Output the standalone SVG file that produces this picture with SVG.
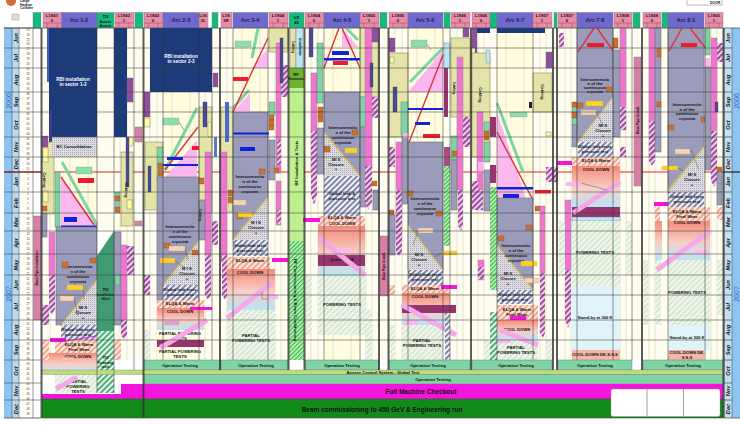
<svg xmlns="http://www.w3.org/2000/svg" width="740" height="425" viewBox="0 0 740 425">
<style>
text{font-family:"Liberation Sans",Arial,sans-serif;font-weight:bold;text-anchor:middle;fill:#111}
.t{font-size:4.2px}.h{font-size:5.5px;fill:#223}.s{font-size:3.4px}.w{fill:#fff;font-size:4.6px}.m{font-size:5.6px;font-style:italic;fill:#112}.wk{font-size:2.8px;fill:#444;font-weight:normal}
.y{font-size:7px;fill:#3a62c8;font-weight:normal}
.pk{fill:#e88ba8;stroke:#777;stroke-width:.4}.gn{fill:#16b97c;stroke:#777;stroke-width:.4}.ar{fill:#6f68d0;stroke:#777;stroke-width:.4}
.navy{fill:#1d3a7a}.kh{fill:#e4e3a8;stroke:#8a8a60;stroke-width:.6}.gr{fill:#9b9bbb;stroke:#666;stroke-width:.5}.pu{fill:#8f4f9c;stroke:#666;stroke-width:.3}.nv{fill:#4a4a9c;stroke:#333;stroke-width:.3}
.lg{fill:#7fd4a5;stroke:#666;stroke-width:.4}.pi{fill:#f075cf;stroke:#888;stroke-width:.4}.or{fill:#c9702c;stroke:#744;stroke-width:.3}.ye{fill:#fffca0;stroke:#666;stroke-width:.4}
.bl{fill:#1122dd}.re{fill:#ee1c2a}.pb{fill:#b9e5f4;stroke:#777;stroke-width:.4}.dm{fill:#96346e}.ro{fill:#d77fa5;stroke:#777;stroke-width:.4}.mg{fill:#f414dc}.tri{fill:#fbb8ee}
.note{fill:#ffd024;stroke:#aa8;stroke-width:.3}.bg{fill:#f6d3b4;stroke:#aa8;stroke-width:.3}.ngn{fill:#8fdcae;stroke:#6a8;stroke-width:.3}
.hp{fill:url(#hp)}.hs{fill:url(#hs)}.hg{fill:url(#hg)}.hd{fill:url(#hd)}.hG{fill:url(#hG)}.hl{fill:url(#hl)}.dt{fill:url(#dt)}.cd{fill:url(#cd)}
.rl{stroke:#e0303c;stroke-width:1.4;fill:none}.gl{stroke:#7fd4a5;stroke-width:3;fill:none}.pl{stroke:#f4a8e8;stroke-width:5;fill:none}.yl{stroke:#d9c04a;stroke-width:1.2;fill:none}.ld{stroke:#555;stroke-width:.5;fill:none}
</style>
<defs>
<pattern id="hp" width="4" height="4" patternUnits="userSpaceOnUse" patternTransform="rotate(45)"><rect width="4" height="4" fill="#f1e0f0"/><rect width="2.2" height="4" fill="#a24ba0"/></pattern>
<pattern id="hs" width="4" height="4" patternUnits="userSpaceOnUse" patternTransform="rotate(45)"><rect width="4" height="4" fill="#fde8dc"/><rect width="2" height="4" fill="#f2a590"/></pattern>
<pattern id="hg" width="4" height="4" patternUnits="userSpaceOnUse" patternTransform="rotate(45)"><rect width="4" height="4" fill="#f4f7e8"/><rect width="1.6" height="4" fill="#cfe5d4"/></pattern>
<pattern id="hd" width="4" height="4" patternUnits="userSpaceOnUse" patternTransform="rotate(45)"><rect width="4" height="4" fill="#f2f2f8"/><rect width="2" height="4" fill="#7f86ac"/></pattern>
<pattern id="hG" width="4" height="4" patternUnits="userSpaceOnUse" patternTransform="rotate(45)"><rect width="4" height="4" fill="#e9f6ec"/><rect width="2" height="4" fill="#4fb077"/></pattern>
<pattern id="hl" width="3" height="3" patternUnits="userSpaceOnUse" patternTransform="rotate(45)"><rect width="3" height="3" fill="#d8f8c8"/><rect width="1.5" height="3" fill="#35c04e"/></pattern>
<pattern id="dt" width="2" height="2" patternUnits="userSpaceOnUse"><rect width="2" height="2" fill="#dcdce2"/><rect width="1" height="1" fill="#aaaab4"/></pattern>
<linearGradient id="cd" x1="0" y1="0" x2="0" y2="1"><stop offset="0" stop-color="#f68a78"/><stop offset=".55" stop-color="#f8cfc8"/><stop offset="1" stop-color="#b9e5f4"/></linearGradient>
</defs>
<rect width="740" height="425" fill="#fff"/>

<g id="background">
<rect x="41" y="28" width="682" height="332" fill="#fffdf0"/>
<rect x="61" y="28" width="36" height="332" fill="#fffce0"/><rect x="163" y="28" width="36" height="332" fill="#fffce0"/><rect x="233" y="28" width="35" height="332" fill="#fffce0"/><rect x="324" y="28" width="36" height="332" fill="#fffce0"/><rect x="408" y="28" width="35" height="332" fill="#fffce0"/><rect x="497" y="28" width="36" height="332" fill="#fffce0"/>
<rect x="4" y="28" width="8" height="390" fill="#8ec4f0"/><rect x="12" y="28" width="7" height="390" fill="#b8daf2"/><rect x="19" y="28" width="14" height="390" fill="#fffdf5"/>
<rect x="724" y="28" width="8" height="390" fill="#c4dff2"/><rect x="732" y="28" width="8" height="390" fill="#8ec4f0"/>
<path d="M4 28H41M4 418H41" stroke="#444" stroke-width=".8"/>
<path d="M12 28V418M19 28V418M33 28V418M724 28V418M732 28V418" stroke="#555" stroke-width=".6" fill="none"/>
<path d="M50 28V360M70 28V360M88 28V360M172 28V360M190 28V360M242 28V360M260 28V360M333 28V360M351 28V360M417 28V360M435 28V360M506 28V360M524 28V360M586 28V360M604 28V360M677 28V360M695 28V360M120 28V360M127 28V360M150 28V360M157 28V360M205 28V360M227 28V360M275 28V360M281 28V360M311 28V360M318 28V360M366 28V360M372 28V360M395 28V360M402 28V360M457 28V360M463 28V360M478 28V360M484 28V360M540 28V360M546 28V360M565 28V360M571 28V360M620 28V360M626 28V360M649 28V360M655 28V360M711 28V360M717 28V360" stroke="#c9c9a8" stroke-width=".5" fill="none"/>
<path d="M4 172H723" stroke="#e8242c" stroke-width="1.2"/>
</g>

<g id="header">
<rect class="gn" x="33" y="12.5" width="8" height="15.5"/><rect class="pk" x="43" y="12.5" width="18.5" height="15.5"/><rect class="ar" x="61.5" y="12.5" width="35.5" height="15.5"/><rect class="gn" x="97" y="12.5" width="17" height="15.5"/><rect class="pk" x="115" y="12.5" width="19" height="15.5"/><rect class="gn" x="135" y="12.5" width="8" height="15.5"/><rect class="pk" x="144" y="12.5" width="19" height="15.5"/><rect class="ar" x="163" y="12.5" width="36" height="15.5"/><rect class="pk" x="199" y="12.5" width="9" height="15.5"/><rect class="gn" x="212" y="12.5" width="6" height="15.5"/><rect class="pk" x="221" y="12.5" width="11" height="15.5"/><rect class="ar" x="233" y="12.5" width="35" height="15.5"/><rect class="pk" x="269" y="12.5" width="19" height="15.5"/><rect class="gn" x="289" y="12.5" width="15" height="15.5"/><rect class="pk" x="305" y="12.5" width="19" height="15.5"/><rect class="ar" x="324" y="12.5" width="36" height="15.5"/><rect class="pk" x="360" y="12.5" width="19" height="15.5"/><rect class="gn" x="380" y="12.5" width="7" height="15.5"/><rect class="pk" x="389" y="12.5" width="19" height="15.5"/><rect class="ar" x="408" y="12.5" width="35" height="15.5"/><rect class="gn" x="444" y="12.5" width="6" height="15.5"/><rect class="pk" x="451" y="12.5" width="19" height="15.5"/><rect class="pk" x="472" y="12.5" width="18" height="15.5"/><rect class="gn" x="490" y="12.5" width="7" height="15.5"/><rect class="ar" x="497" y="12.5" width="36" height="15.5"/><rect class="pk" x="533" y="12.5" width="19" height="15.5"/><rect class="gn" x="554" y="12.5" width="3" height="15.5"/><rect class="pk" x="558" y="12.5" width="19" height="15.5"/><rect class="ar" x="577" y="12.5" width="36" height="15.5"/><rect class="pk" x="614" y="12.5" width="18" height="15.5"/><rect class="gn" x="633" y="12.5" width="7" height="15.5"/><rect class="pk" x="643" y="12.5" width="18" height="15.5"/><rect class="gn" x="662" y="12.5" width="6" height="15.5"/><rect class="ar" x="668" y="12.5" width="36" height="15.5"/><rect class="pk" x="705" y="12.5" width="18" height="15.5"/>
<path d="M43 23H61.500M47 23V28M57 23V28M115 23H134M119 23V28M129 23V28M144 23H163M148 23V28M158 23V28M269 23H288M273 23V28M283 23V28M305 23H324M309 23V28M319 23V28M360 23H379M364 23V28M374 23V28M389 23H408M393 23V28M403 23V28M451 23H470M455 23V28M465 23V28M472 23H490M476 23V28M486 23V28M533 23H552M537 23V28M547 23V28M558 23H577M562 23V28M572 23V28M614 23H632M618 23V28M628 23V28M643 23H661M647 23V28M657 23V28M705 23H723M709 23V28M719 23V28" stroke="#844" stroke-width=".4" fill="none"/>
<text class="h" x="79" y="21.5">Arc 1-2</text><text class="h" x="181" y="21.5">Arc 2-3</text><text class="h" x="250" y="21.5">Arc 3-4</text><text class="h" x="342" y="21.5">Arc 4-5</text><text class="h" x="425" y="21.5">Arc 5-6</text><text class="h" x="515" y="21.5">Arc 6-7</text><text class="h" x="595" y="21.5">Arc 7-8</text><text class="h" x="686" y="21.5">Arc 8-1</text>
<text class="t" x="105.5" y="18">TI2</text><text class="s" x="105.5" y="23">Access</text><text class="s" x="105.5" y="26.5">Access</text><text class="t" x="296.5" y="19">UX</text><text class="t" x="296.5" y="24">45</text>
<text class="t" x="52" y="17">L1S01</text><text class="t" x="52" y="22">0</text><text class="t" x="124" y="17">L1S02</text><text class="t" x="124" y="22">1</text><text class="t" x="153" y="17">L1S02</text><text class="t" x="153" y="22">0</text><text class="t" x="203" y="17">L1S</text><text class="t" x="203" y="22">3L</text><text class="t" x="226" y="17">L1S</text><text class="t" x="226" y="22">3R</text><text class="t" x="278" y="17">L1S04</text><text class="t" x="278" y="22">1</text><text class="t" x="314" y="17">L1S04</text><text class="t" x="314" y="22">0</text><text class="t" x="369" y="17">L1S05</text><text class="t" x="369" y="22">1</text><text class="t" x="398" y="17">L1S05</text><text class="t" x="398" y="22">0</text><text class="t" x="460" y="17">L1S06</text><text class="t" x="460" y="22">1</text><text class="t" x="481" y="17">L1S06</text><text class="t" x="481" y="22">0</text><text class="t" x="542" y="17">L1S07</text><text class="t" x="542" y="22">1</text><text class="t" x="567" y="17">L1S07</text><text class="t" x="567" y="22">0</text><text class="t" x="623" y="17">L1S08</text><text class="t" x="623" y="22">1</text><text class="t" x="652" y="17">L1S08</text><text class="t" x="652" y="22">0</text><text class="t" x="714" y="17">L1S01</text><text class="t" x="714" y="22">1</text>
</g>

<g id="sector12">
<rect class="navy" x="49" y="28" width="48" height="109"/><rect class="navy" x="114" y="28" width="13" height="109"/><rect x="47" y="28" width="2" height="54" fill="#3c62c8"/><rect x="49" y="110" width="3" height="52" fill="#3c3c8c"/>
<text class="w" x="73" y="81">RBI installation</text><text class="w" x="73" y="86">in sector 1-2</text>
<rect class="kh" x="42" y="142" width="12" height="72"/><rect class="pu" x="42" y="136" width="6" height="11"/><rect class="ye" x="43" y="148" width="5" height="14"/><rect class="ye" x="43" y="191" width="5" height="11"/><rect class="or" x="42" y="206" width="5" height="5"/><rect class="gr" x="42" y="213" width="5" height="24"/>
<rect class="dt" x="52" y="137" width="45" height="20"/><text class="t" x="74" y="148">BC Consolidation</text>
<rect class="lg" x="55" y="172" width="5" height="55"/><rect class="pi" x="49" y="232" width="6" height="44"/><path class="hp" d="M49 275h6v34l-3 6-3-6z"/><rect class="hp" x="42" y="305" width="7" height="20"/>
<polygon class="tri" points="61,178 61,226 97,226"/>
<path class="gl" d="M62 162L97 225"/><path class="rl" d="M61 177L94 225"/><rect class="bl" x="64" y="217" width="13" height="5"/><rect class="bl" x="61" y="225.5" width="36" height="2"/>
<rect class="ngn" x="76" y="167" width="16" height="7"/><rect class="re" x="78" y="178" width="16" height="5"/>
<rect class="gr" x="56" y="227" width="41" height="98"/><polygon class="dt" points="97,280 97,325 61,325"/><path class="yl" d="M97 280L61 325"/>
<text class="t" x="78" y="268">Interconnectio</text><text class="t" x="78" y="273">n of the</text><text class="t" x="78" y="278">continuous</text><text class="t" x="78" y="283">cryostat</text>
<rect class="or" x="62" y="262" width="6" height="6"/><rect class="or" x="90" y="258" width="6" height="5"/><rect class="note" x="67" y="285" width="16" height="5"/><rect class="bg" x="60" y="296" width="14" height="5"/><path class="ld" d="M83 290L84 300M74 298L78 316"/>
<text class="t" x="83" y="309">MI S</text><text class="t" x="83" y="314">Closure</text><text class="t" x="83" y="319">+</text>
<rect class="hd" x="61" y="325" width="36" height="15"/><text class="t" x="78" y="331">Global leak tests</text><text class="t" x="78" y="336">pressure test</text>
<rect class="hs" x="55" y="340" width="42" height="13"/><text class="t" x="79" y="346">ELQA &amp; Warm</text><text class="t" x="79" y="351">Final Meas</text>
<rect class="cd" x="42" y="353" width="55" height="20"/><text class="t" x="78" y="358">COOL DOWN</text><rect class="hs" x="42" y="340" width="7" height="20"/><rect class="hs" x="114" y="340" width="7" height="20"/>
<rect class="hg" x="55" y="373" width="42" height="20"/><text class="t" x="78" y="383">PARTIAL</text><text class="t" x="78" y="388">POWERING</text><text class="t" x="78" y="393">TESTS</text>
<path class="pl" d="M56 389L77 377"/><rect class="mg" x="50" y="338" width="16" height="4"/><path d="M60 342L96 336" stroke="#e91ed0" stroke-width="1"/><rect class="bg" x="62" y="357" width="12" height="3" opacity=".6"/>
</g>

<g id="ti2">
<polygon fill="#fff" points="97,256 114,231 97,231"/><polygon fill="#3f9b70" points="97,256 114,231 114,256"/><rect x="97" y="256" width="17" height="75" fill="#3f9b70"/><rect class="hG" x="97" y="331" width="17" height="62"/>
<text class="t" x="105.500" y="291">TI2</text><text class="s" x="105.500" y="296">Installation</text><text class="s" x="105.500" y="300">effort</text><text class="t" x="105.500" y="359">TI2</text><text class="s" x="105.500" y="364">Powering</text><text class="s" x="105.500" y="368">tests</text>
</g>

<g id="point2">
<rect class="lg" x="115" y="192" width="5" height="21"/><rect class="or" x="115" y="196" width="5" height="5"/><rect class="or" x="115" y="207" width="5" height="5"/><rect class="gr" x="114" y="232" width="7" height="93"/><rect class="lg" x="115" y="275" width="5" height="10"/>
<rect class="pi" x="121" y="245" width="6" height="76"/><path class="hp" d="M121 320h6v15l-3 5-3-5z"/><rect class="hp" x="127" y="246" width="7" height="29"/>
<rect class="kh" x="121" y="152" width="12" height="74"/><rect class="nv" x="126" y="137" width="3" height="50"/><rect class="pu" x="127" y="78" width="6" height="24"/><rect class="ye" x="129" y="137" width="4" height="9"/><rect class="ye" x="127" y="200" width="5" height="9"/>
<rect class="ro" x="135" y="127" width="7" height="15"/><rect class="ro" x="135" y="221" width="7" height="5"/><rect class="ro" x="33.500" y="216" width="7.500" height="104"/>
<text class="s" transform="rotate(-90 37 268)" x="37" y="269">Base Pipe Installation</text><text class="t" transform="rotate(90 126 190)" x="126" y="191">Cabling</text><text class="t" transform="rotate(90 44 180)" x="44" y="181">Cabling</text>
</g>

<g id="sector23">
<rect class="navy" x="150" y="28" width="62" height="64"/><text class="w" x="181" y="58">RBI installation</text><text class="w" x="181" y="63">in sector 2-3</text>
<rect class="pu" x="144" y="92" width="6" height="25"/><rect class="ye" x="144" y="118" width="6" height="9"/><rect class="kh" x="145" y="142" width="18" height="68"/><rect class="nv" x="148" y="166" width="3" height="26"/><rect class="lg" x="157" y="147" width="6" height="33"/><rect class="or" x="158" y="163" width="5" height="6"/><rect class="or" x="158" y="170" width="5" height="6"/>
<rect class="ngn" x="163" y="118" width="16" height="7"/><path class="ld" d="M179 122L184 130"/>
<polygon class="tri" points="197,140 197,180 163,180"/><path class="gl" d="M197 108L165 170"/><path class="rl" d="M198 127L165 170"/>
<rect class="bl" x="167" y="157" width="16" height="3"/><rect class="bl" x="163" y="164" width="35" height="2"/><rect class="re" x="192" y="146" width="16" height="4"/>
<rect class="gr" x="157" y="177" width="42" height="123"/><polygon class="dt" points="198,242 198,285 163,285"/><path class="yl" d="M198 242L163 285"/>
<text class="t" x="180" y="228">Interconnectio</text><text class="t" x="180" y="233">n of the</text><text class="t" x="180" y="238">continuous</text><text class="t" x="180" y="243">cryostat</text>
<rect class="or" x="164" y="243" width="6" height="5"/><rect class="or" x="192" y="250" width="6" height="5"/><rect class="bg" x="169" y="246" width="16" height="5"/><rect class="note" x="160" y="258" width="15" height="5"/><path class="ld" d="M185 249L188 260M175 261L185 268"/>
<text class="t" x="187" y="270">M I S</text><text class="t" x="187" y="275">Closure</text><text class="t" x="187" y="280">+</text>
<rect class="hd" x="163" y="285" width="35" height="15"/><text class="t" x="180" y="291">Global leak tests</text><text class="t" x="180" y="296">pressure test</text>
<rect class="hs" x="157" y="300" width="47" height="8"/><text class="t" x="180" y="305">ELQA &amp; Warm</text><rect class="cd" x="157" y="308" width="47" height="22"/><text class="t" x="180" y="313">COOL DOWN</text>
<rect fill="#fffce0" x="157" y="330" width="40" height="10"/><text class="t" x="180" y="335">PARTIAL POWERING</text><text class="t" x="180" y="339.500">TESTS</text>
<rect class="dm" x="157" y="340" width="47" height="7"/><rect fill="#fffce0" x="157" y="347" width="40" height="13"/><text class="t" x="180" y="353">PARTIAL POWERING</text><text class="t" x="180" y="358">TESTS</text>
<rect class="hg" x="144" y="330" width="6" height="30"/><rect class="hp" x="144" y="275" width="6" height="20"/><rect class="mg" x="190" y="307" width="22" height="3"/><rect class="pi" x="165" y="321" width="14" height="4" opacity=".6"/><path class="pl" d="M160 348L207 320"/>
<rect class="kh" x="199" y="107" width="13" height="105"/><rect class="nv" x="203" y="102" width="4" height="25" fill="#4a6ad0"/><rect class="or" x="199" y="178" width="5" height="6"/><rect class="ye" x="208" y="122" width="3" height="15"/><rect class="pi" x="205" y="152" width="6" height="103"/><path class="hp" d="M205 255h6v40l-3 5-3-5z"/><rect fill="#5a7ac8" x="214" y="137" width="3" height="20"/><rect class="pu" x="213" y="73" width="5" height="14"/><rect class="hp" x="212" y="221" width="6" height="24"/>
<rect class="gr" x="199" y="200" width="6" height="40"/><text class="s" transform="rotate(90 200 215)" x="200" y="216">Cabling</text>
</g>

<g id="sector34">
<rect class="kh" x="221" y="107" width="12" height="105"/><rect x="225" y="102" width="4" height="40" fill="#4a6ad0"/><rect class="pi" x="221" y="152" width="6" height="110"/><path class="hp" d="M222 255h5v40l-2 5-3-5z"/><rect class="or" x="228" y="190" width="5" height="6"/><rect class="or" x="228" y="197" width="5" height="6"/>
<rect class="gr" x="233" y="112" width="35" height="128"/><polygon class="tri" points="252,68 268,48 268,68"/><polygon class="tri" points="233,112 250,93 250,112"/><path class="gl" d="M233 108L249 90"/><path class="gl" d="M258 28L252 58"/><path class="rl" d="M233 112L268 38"/><polygon class="dt" points="268,197 268,240 233,240"/><path class="yl" d="M268 197L233 240"/>
<rect class="bl" x="233" y="132.500" width="36" height="2"/><rect class="bl" x="240" y="147" width="15" height="4"/><rect class="re" x="233" y="77" width="15" height="4"/><rect class="ngn" x="235" y="41" width="16" height="6"/><rect class="or" x="259" y="169" width="6" height="5"/>
<text class="t" x="250" y="178">Interconnectio</text><text class="t" x="250" y="183">n of the</text><text class="t" x="250" y="188">continuous</text><text class="t" x="250" y="193">cryostat</text>
<rect class="or" x="237" y="214" width="6" height="5" opacity=".9"/><rect class="note" x="238" y="212" width="14" height="5"/><rect class="bg" x="233" y="200" width="13" height="5"/><text class="t" x="256" y="224">M I S</text><text class="t" x="256" y="229">Closure</text><text class="t" x="256" y="234">+</text>
<rect class="hd" x="233" y="240" width="35" height="16"/><text class="t" x="250" y="247">Global leak tests</text><text class="t" x="250" y="252">pressure test</text>
<rect class="hs" x="227" y="257" width="43" height="12"/><text class="t" x="250" y="262">ELQA &amp; Warm</text><rect class="cd" x="227" y="269" width="48" height="41"/><text class="t" x="250" y="274">COOL DOWN</text><rect class="hg" x="227" y="310" width="48" height="50"/><text class="t" x="251" y="337">PARTIAL</text><text class="t" x="251" y="342">POWERING TESTS</text>
<path class="pl" d="M227 318L272 283"/><rect class="mg" x="272" y="258" width="16" height="4"/><rect class="tri" x="266" y="295" width="12" height="4"/><path class="ld" d="M262 292V299H268"/>
<rect class="kh" x="269" y="28" width="19" height="24"/><rect class="lg" x="269" y="102" width="6" height="13"/><rect class="or" x="269" y="115" width="5" height="5"/><rect class="or" x="269" y="120" width="5" height="5"/><rect class="or" x="269" y="125" width="5" height="5"/>
<rect class="pi" x="276" y="43" width="5" height="130"/><rect class="hp" x="277" y="140" width="4" height="25"/><rect class="pi" x="276" y="181" width="5" height="44"/><path class="hp" d="M277 210h4v12l-2 3-2-3z"/><rect class="hp" x="281" y="65" width="7" height="32"/><rect class="nv" x="280" y="38" width="3" height="45"/><rect class="gr" x="269" y="140" width="6" height="40"/><rect class="or" x="274" y="168" width="5" height="5"/>
</g>

<g id="ux45">
<rect class="kh" x="290" y="28" width="6" height="40"/><rect class="pb" x="296" y="28" width="7" height="40"/><rect fill="#6db32d" x="289" y="68" width="15" height="20"/><rect fill="#bff08f" x="289" y="88" width="15" height="153"/><rect class="hl" x="289" y="241" width="15" height="119"/>
<text class="t" fill="#fff" x="296" y="76">RF</text><text class="s" x="296" y="80">Electronic</text><text class="t" transform="rotate(-90 296 163)" x="296" y="164.500">RF Installation &amp; Tests</text><text class="t" transform="rotate(90 295 300)" x="295" y="301.500">RF Commissioning &amp; Beam Conditioning</text>
<text class="s" transform="rotate(90 293 47)" x="293" y="48">Cabling</text><text class="s" transform="rotate(90 300 47)" x="300" y="48">Installation</text>
</g>

<g id="sector45">
<rect class="nv" x="309" y="28" width="4" height="29"/><rect class="pi" x="311" y="73" width="6" height="100"/><path class="hp" d="M311 131h6v64l-3 10-3-10z"/><rect class="lg" x="317" y="43" width="6" height="60"/><rect class="or" x="318" y="107" width="5" height="5"/><rect class="or" x="318" y="112" width="5" height="5"/><rect class="or" x="318" y="117" width="5" height="5"/><rect class="gr" x="317" y="128" width="7" height="46"/>
<polygon class="tri" points="342,28 342,47 358,47"/><path class="gl" d="M346 28L358 40" stroke-width="2"/><path class="rl" d="M324 68L339 28M342 28L361 70"/><rect class="bl" x="324" y="58" width="36" height="2.500"/><rect class="bl" x="332" y="51" width="17" height="4"/><rect class="re" x="333" y="61" width="15" height="4"/>
<rect class="gr" x="324" y="92" width="36" height="84"/><polygon class="dt" points="324,132 324,176 360,176"/><path class="yl" d="M324 132L360 176"/>
<text class="t" x="343" y="129">Interconnectio</text><text class="t" x="343" y="134">n of the</text><text class="t" x="343" y="139">continuous</text><text class="t" x="343" y="144">cryostat</text>
<rect class="or" x="352" y="130" width="6" height="5"/><rect class="or" x="324" y="146" width="6" height="6"/><rect class="note" x="345" y="148" width="12" height="5"/><text class="t" x="336" y="161">MI S</text><text class="t" x="336" y="165.500">Closure</text><text class="t" x="336" y="170">+</text><rect class="bg" x="342" y="181" width="13" height="4"/>
<rect class="hd" x="324" y="176" width="36" height="40"/><text class="t" x="342" y="195">Global leak &amp;</text><text class="t" x="342" y="200">pressure test</text>
<rect class="hs" x="318" y="216" width="47" height="10"/><text class="t" x="342" y="219">ELQA &amp; Warm</text><text class="t" x="342" y="225">COOL DOWN</text><rect class="cd" x="318" y="226" width="47" height="50"/><rect class="dm" x="318" y="255" width="47" height="11"/><text class="s" x="342" y="261" fill="#400">Quench/ELQA</text>
<rect class="hg" x="318" y="276" width="48" height="59"/><text class="t" x="342" y="306">POWERING TESTS</text><path class="pl" d="M319 238L365 275"/><rect class="mg" x="303" y="218" width="17" height="4"/><rect class="hg" x="306" y="275" width="6" height="60"/><rect class="tri" x="337" y="248" width="13" height="4"/>
<rect class="kh" x="360" y="28" width="18" height="69"/><rect class="lg" x="360" y="97" width="6" height="30"/><rect class="gr" x="360" y="127" width="6" height="80"/><rect class="pi" x="365" y="28" width="7" height="140"/><path class="hp" d="M365 166h7v36l-4 8-3-8z"/><rect class="nv" x="370" y="63" width="3" height="24"/><rect class="hp" x="372" y="97" width="6" height="21"/><rect class="pu" x="372" y="28" width="6" height="14"/><rect class="or" x="372" y="181" width="5" height="5"/><rect class="gr" x="373" y="190" width="5" height="20"/>
<rect class="ro" x="380" y="236" width="8" height="60"/><text class="s" transform="rotate(-90 384 266)" x="384" y="267">Base Pipe Install.</text><rect class="hg" x="366" y="310" width="6" height="50"/>
</g>

<g id="sector56">
<rect class="pu" x="389" y="38" width="6" height="14"/><rect class="kh" x="389" y="53" width="19" height="84"/><rect class="ye" x="390" y="57" width="4" height="6"/><rect class="nv" x="393" y="87" width="4" height="25"/><rect class="lg" x="401" y="102" width="7" height="33"/><rect class="pi" x="396" y="142" width="6" height="100"/><path class="hp" d="M396 190h6v62l-3 5-3-5z"/><rect class="hp" x="389" y="147" width="6" height="20"/><rect class="or" x="389" y="210" width="5" height="5"/><rect class="gr" x="389" y="215" width="6" height="40"/><rect class="hs" x="389" y="285" width="6" height="10"/><rect class="gr" x="402" y="136" width="6" height="68"/>
<rect class="ngn" x="411" y="40" width="16" height="7"/><path class="ld" d="M427 44L431 50"/><polygon class="tri" points="443,50 443,92 408,92"/><path class="gl" d="M410 82L443 48"/><path class="rl" d="M443 55L408 145"/><rect class="bl" x="408" y="108" width="35" height="2"/><rect class="bl" x="415" y="122" width="15" height="3"/><rect class="re" x="423" y="134" width="17" height="4"/><rect class="tri" x="403" y="133" width="5" height="5"/>
<rect class="gr" x="408" y="142" width="35" height="128"/><polygon class="dt" points="408,225 408,270 443,270"/><path class="yl" d="M408 225L443 270"/>
<text class="t" x="425" y="200">Interconnectio</text><text class="t" x="425" y="205">n of the</text><text class="t" x="425" y="210">continuous</text><text class="t" x="425" y="215">cryostat</text>
<rect class="or" x="407" y="191" width="6" height="5"/><rect class="or" x="436" y="211" width="6" height="5"/><rect class="bg" x="418" y="228" width="15" height="5"/><rect class="note" x="442" y="251" width="15" height="4"/><path class="ld" d="M418 231L413 245M442 253L434 257"/>
<text class="t" x="419" y="256">MI S</text><text class="t" x="419" y="261">Closure</text><text class="t" x="419" y="266">+</text>
<rect class="hd" x="408" y="270" width="35" height="15"/><text class="t" x="425" y="276">Global leak tests</text><text class="t" x="425" y="281">pressure test</text><rect class="hs" x="402" y="285" width="48" height="8"/><text class="t" x="425" y="290">ELQA &amp; Warm</text><rect class="cd" x="402" y="293" width="48" height="32"/><text class="t" x="425" y="298">COOL DOWN</text><rect class="dm" x="402" y="305" width="54" height="8"/><rect class="hg" x="402" y="325" width="41" height="35"/><text class="t" x="422" y="342">PARTIAL</text><text class="t" x="422" y="347">POWERING TESTS</text><path class="pl" d="M402 305L456 335"/><rect class="mg" x="441" y="285" width="16" height="4"/><rect class="tri" x="404" y="320" width="14" height="5"/><rect class="hg" x="389" y="325" width="6" height="35"/>
<rect class="pb" x="444" y="43" width="6" height="25"/><rect fill="#96346e" x="444" y="68" width="4" height="49"/><rect fill="#a84f80" x="444" y="147" width="6" height="19"/><rect class="hl" x="444" y="166" width="6" height="80"/><rect class="hd" x="445" y="313" width="5" height="47"/>
</g>

<g id="point6">
<rect class="kh" x="451" y="38" width="19" height="79"/><rect class="pi" x="457" y="57" width="6" height="133"/><path class="hp" d="M458 190h5v36l-2 5-3-5z"/><rect class="hp" x="463" y="117" width="7" height="30"/><rect class="lg" x="451" y="136" width="6" height="24"/><rect class="or" x="452" y="151" width="5" height="5"/><rect class="gr" x="451" y="160" width="6" height="50"/><rect class="pu" x="463" y="28" width="6" height="9"/><text class="s" transform="rotate(90 454 88)" x="454" y="89">Cabling</text>
<rect class="pu" x="472" y="28" width="5" height="25"/><rect class="navy" x="477" y="28" width="13" height="5"/><rect class="ye" x="472" y="48" width="3" height="14"/><rect class="kh" x="472" y="53" width="18" height="104"/><rect class="pi" x="477" y="112" width="6" height="98"/><rect class="hp" x="478" y="190" width="5" height="20"/><rect class="pb" x="486" y="50" width="4" height="13"/><text class="t" transform="rotate(90 480 95)" x="480" y="96">Cabling</text>
<rect fill="#96346e" x="490" y="117" width="6" height="20"/><rect fill="#96346e" x="490" y="165" width="6" height="18"/><rect class="lg" x="484" y="122" width="6" height="13"/><rect class="or" x="484" y="131" width="5" height="9"/><rect class="lg" x="484" y="142" width="6" height="20"/><rect class="gr" x="484" y="170" width="6" height="41"/><rect class="hp" x="472" y="181" width="6" height="29"/><rect class="tri" x="478" y="162" width="6" height="9"/><rect class="hl" x="490" y="187" width="7" height="103"/><rect class="hG" x="490" y="312" width="7" height="56"/><rect class="hg" x="484" y="340" width="6" height="20"/>
<rect class="pi" x="478" y="260" width="6" height="20"/><rect class="hp" x="478" y="267" width="6" height="12"/>
</g>

<g id="sector67">
<rect class="navy" x="497" y="28" width="48" height="5"/><rect class="kh" x="533" y="73" width="19" height="39"/><text class="t" transform="rotate(90 542 92)" x="542" y="93">Cabling</text><rect class="pu" x="546" y="52" width="6" height="16"/><rect class="ye" x="546" y="132" width="5" height="4"/><rect fill="#222" x="529" y="102" width="3" height="6"/>
<polygon class="tri" points="497,112 497,210 530,210"/><path class="gl" d="M497 103L523 172"/><path class="rl" d="M497 132L533 200"/><rect class="bl" x="497" y="187" width="36" height="2.500"/><rect class="bl" x="503" y="194" width="16" height="4"/><rect class="re" x="535" y="190" width="16" height="3.500"/><rect class="ngn" x="510" y="112" width="17" height="5"/>
<rect class="gr" x="497" y="198" width="36" height="92"/><polygon class="dt" points="497,245 497,290 533,290"/><path class="yl" d="M497 245L533 290"/>
<text class="t" x="516" y="247">Interconnectio</text><text class="t" x="516" y="252">n of the</text><text class="t" x="516" y="257">continuous</text><text class="t" x="516" y="262">cryostat</text>
<rect class="or" x="498" y="236" width="6" height="5"/><rect class="or" x="526" y="225" width="6" height="5"/><rect class="or" x="535" y="206" width="5" height="5"/><rect class="note" x="521" y="261" width="16" height="5"/><rect class="bg" x="525" y="278" width="14" height="5"/><text class="t" x="508" y="275">MI S</text><text class="t" x="508" y="280">Closure</text><text class="t" x="508" y="285">+</text>
<rect class="hd" x="497" y="290" width="36" height="14"/><text class="t" x="515" y="296">Global leak tests</text><text class="t" x="515" y="301">pressure test</text><rect class="hs" x="497" y="305" width="41" height="15"/><text class="t" x="517" y="311">ELQA &amp; Warm</text><text class="t" x="517" y="316">Final Meas</text>
<rect class="cd" x="497" y="320" width="41" height="20"/><text class="t" x="517" y="331">COOL DOWN</text><rect class="hg" x="497" y="340" width="41" height="20"/><text class="t" x="516" y="349">PARTIAL</text><text class="t" x="516" y="354">POWERING TESTS</text><path class="pl" d="M500 330L538 345"/><rect class="mg" x="510" y="316" width="16" height="4"/><rect class="tri" x="497" y="339" width="14" height="4"/>
<rect class="pi" x="540" y="206" width="5" height="67"/><path class="hp" d="M540 273h5v60l-2 5-3-5z"/><rect class="hg" x="546" y="340" width="6" height="20"/><rect class="hp" x="546" y="167" width="12" height="15"/>
</g>

<g id="sector78">
<rect class="hp" x="559" y="33" width="5" height="14"/><rect class="lg" x="572" y="107" width="5" height="18"/><rect class="or" x="572" y="102" width="5" height="5"/><rect class="or" x="572" y="112" width="5" height="6"/><rect class="gr" x="572" y="125" width="5" height="22"/><rect class="mg" x="557" y="161" width="15" height="4"/><rect class="pi" x="565" y="200" width="6" height="70"/><path class="hp" d="M565 270h6v50l-3 8-3-8z"/><rect class="hg" x="559" y="221" width="6" height="55"/>
<rect class="gr" x="577" y="28" width="36" height="114"/><path class="rl" d="M578 52L594 28M597 28L614 52"/><rect class="re" x="587" y="43" width="17" height="4"/><polygon class="dt" points="613,97 613,142 578,142"/><path class="yl" d="M613 97L578 142"/>
<text class="t" x="595" y="81">Interconnectio</text><text class="t" x="595" y="85">n of the</text><text class="t" x="595" y="89">continuous</text><text class="t" x="595" y="93">cryostat</text>
<rect class="or" x="606" y="87" width="6" height="5"/><rect class="or" x="577" y="103" width="6" height="5"/><rect class="note" x="586" y="101" width="17" height="5"/><rect class="bg" x="581" y="110" width="15" height="5"/><path class="ld" d="M596 112L603 125"/><text class="t" x="603" y="127">MI S</text><text class="t" x="603" y="132">Closure</text><text class="t" x="603" y="137">+</text>
<rect class="hd" x="578" y="142" width="35" height="15"/><text class="t" x="595" y="148">Global leak tests</text><text class="t" x="595" y="153">pressure test</text><rect class="hs" x="572" y="157" width="48" height="9"/><text class="t" x="596" y="162">ELQA &amp; Warm</text><rect class="cd" x="572" y="166" width="48" height="41"/><text class="t" x="596" y="171">COOL DOWN</text>
<rect class="dm" x="572" y="207" width="48" height="10"/><rect class="pb" x="572" y="217" width="48" height="4" stroke="none"/><rect class="hg" x="572" y="221" width="48" height="65"/><text class="t" x="595" y="254">POWERING TESTS</text><rect fill="#e0f3f7" x="572" y="286" width="48" height="64"/><text class="t" x="595" y="319">Stand-by at 300 K</text><rect fill="#f5b8a8" x="572" y="350" width="48" height="10"/><text class="t" x="595" y="356">COOL-DOWN DE-S.S.S</text><path class="pl" d="M573 213L620 182"/><rect class="tri" x="566" y="182" width="15" height="4"/><path class="ld" d="M581 183L607 190"/>
<rect class="or" x="613" y="38" width="5" height="10"/><rect class="gr" x="613" y="50" width="7" height="87"/><rect class="pi" x="620" y="28" width="6" height="102"/><rect class="hp" x="620" y="107" width="6" height="23"/><rect class="hp" x="620" y="147" width="6" height="10"/><rect class="hg" x="626" y="221" width="6" height="55"/>
<rect class="ro" x="634" y="57" width="7" height="129"/><text class="s" transform="rotate(-90 637.500 120)" x="637.500" y="121">Base Pipe Install.</text>
</g>

<g id="sector81">
<rect class="pi" x="649" y="28" width="6" height="133"/><path class="hp" d="M649 121h6v40l-3 5-3-5z"/><rect class="gr" x="655" y="28" width="6" height="124"/><rect class="or" x="657" y="48" width="4" height="9"/><rect class="or" x="657" y="102" width="4" height="5"/><rect class="hs" x="655" y="203" width="5" height="18"/><rect class="cd" x="655" y="221" width="7" height="39"/><rect class="hg" x="643" y="260" width="5" height="65"/><rect class="hg" x="655" y="260" width="6" height="65"/><rect class="mg" x="654" y="202" width="16" height="4"/>
<rect class="gr" x="668" y="28" width="36" height="164"/><path class="rl" d="M669 51L682 28M690 28L707 50"/><rect class="re" x="681" y="43" width="16" height="4"/><polygon class="dt" points="704,147 704,192 668,192"/><path class="yl" d="M704 147L668 190"/>
<text class="t" x="687" y="106">Interconnectio</text><text class="t" x="687" y="110.500">n of the</text><text class="t" x="687" y="115">continuous</text><text class="t" x="687" y="119.500">cryostat</text>
<rect class="or" x="701" y="117" width="6" height="5"/><rect class="or" x="668" y="125" width="6" height="5"/><rect class="bg" x="675" y="149" width="15" height="5"/><rect class="note" x="662" y="166" width="16" height="4"/><path class="ld" d="M691 150L699 170M678 168L684 171"/><text class="t" x="692" y="176">MI S</text><text class="t" x="692" y="181">Closure</text><text class="t" x="692" y="186">+</text>
<rect class="hd" x="668" y="192" width="36" height="15"/><text class="t" x="687" y="198">Global leak tests</text><text class="t" x="687" y="203">pressure test</text><rect class="hs" x="668" y="207" width="42" height="14"/><text class="t" x="687" y="213">ELQA &amp; Warm</text><text class="t" x="687" y="218">Final Meas</text>
<rect class="cd" x="668" y="221" width="42" height="39"/><text class="t" x="687" y="224">COOL DOWN</text><rect class="hg" x="668" y="260" width="42" height="65"/><text class="t" x="687" y="294">POWERING TESTS</text><rect fill="#e0f3f7" x="668" y="325" width="42" height="25"/><text class="t" x="687" y="339">Stand-by at 300 K</text><rect fill="#f5b8a8" x="668" y="350" width="36" height="10"/><text class="t" x="687" y="354">COOL-DOWN DE-</text><text class="t" x="687" y="358.500">S.S.S</text><path class="pl" d="M657 270L710 231"/><rect class="tri" x="695" y="250" width="14" height="4"/><rect class="hg" x="717" y="260" width="6" height="55"/>
<rect class="lg" x="705" y="28" width="5" height="27"/><rect class="tri" x="705" y="58" width="5" height="9"/><rect class="gr" x="705" y="67" width="6" height="103"/><rect class="pi" x="711" y="38" width="6" height="100"/><path class="hp" d="M711 131h6v50l-3 6-3-6z"/><rect class="nv" x="715" y="102" width="3" height="10"/><rect class="hp" x="717" y="43" width="6" height="19"/><rect class="or" x="717" y="167" width="5" height="5"/><rect class="gr" x="717" y="172" width="5" height="33"/><rect class="hs" x="717" y="207" width="6" height="13"/>
</g>

<g id="bottom-bars">
<rect class="lg" x="144" y="360" width="77" height="10"/><rect class="lg" x="221" y="360" width="67" height="10"/><rect class="lg" x="305" y="360" width="74" height="10"/><rect class="lg" x="389" y="360" width="81" height="10"/><rect class="lg" x="472" y="360" width="80" height="10"/><rect class="lg" x="558" y="360" width="74" height="10"/><rect class="lg" x="643" y="360" width="80" height="10"/>
<text class="t" x="180" y="366.500">Operation Testing</text><text class="t" x="256" y="366.500">Operation Testing</text><text class="t" x="342" y="366.500">Operation Testing</text><text class="t" x="428" y="366.500">Operation Testing</text><text class="t" x="516" y="366.500">Operation Testing</text><text class="t" x="595" y="366.500">Operation Testing</text><text class="t" x="683" y="366.500">Operation Testing</text>
<rect x="42" y="370" width="681" height="4.500" fill="#bfdc7c" stroke="#888" stroke-width=".4"/><text class="t" x="383" y="373.800">Access Control System - Global Test</text>
<rect class="lg" x="144" y="374.500" width="579" height="9.500" stroke="none"/><text class="t" x="433" y="381">Operation Testing</text>
<rect x="121" y="384" width="602" height="15" class="mg"/><rect x="42" y="394" width="79" height="5" class="mg"/><text x="421" y="394" style="font-size:6.500px" fill="#202040">Full Machine Checkout</text>
<rect x="42" y="399" width="681" height="19" fill="#118a1a"/><text x="382" y="411.500" style="font-size:6.500px">Beam commissioning to 450 GeV &amp; Engineering run</text>
</g>

<g id="grid" fill="none">
<path d="M4 28H723M4 48H723M4 68H723M4 92H723M4 112H723M4 137H723M4 157H723M4 192H723M4 213H723M4 231H723M4 254H723M4 275H723M4 295H723M4 320H723M4 340H723M4 360H41M4 383H41M4 400H41" stroke="#444" stroke-width="1" opacity=".55"/>
<path d="M724 28H740M724 48H732M724 68H732M724 92H732M724 112H732M724 137H732M724 157H732M724 172H740M724 192H732M724 213H732M724 231H732M724 254H732M724 275H732M724 295H732M724 320H732M724 340H732M724 360H732M724 383H732M724 400H732M724 418H740" stroke="#444" stroke-width=".7"/>
<path d="M41.500 28V418M143.500 28V418M220 28V370M288.500 28V370M304.500 28V370M379 28V370M388.500 28V370M471 28V370M553 28V370M557 28V370M642 28V370M723.500 28V418" stroke="#333" stroke-width="2" opacity=".8"/>
<path d="M97 28V393M114 28V393M134 28V370M163 28V360M199 28V360M212 28V360M233 28V360M268 28V360M324 28V360M360 28V360M408 28V360M443 28V360M450 28V360M497 28V360M533 28V360M577 28V360M613 28V360M632 28V360M668 28V360M705 28V360" stroke="#333" stroke-width=".7" opacity=".75"/>
<path d="M4 172H41M723 172H740" stroke="#111" stroke-width=".8"/>
<path d="M42 399H723M42 418H723" stroke="#444" stroke-width=".6"/>
</g>

<g id="calendar">
<text class="y" transform="rotate(-90 8 101)" x="8" y="103.500">2006</text><text class="y" transform="rotate(-90 8 294)" x="8" y="296.500">2007</text><text class="y" transform="rotate(-90 736 101)" x="736" y="103.500">2006</text><text class="y" transform="rotate(-90 736 294)" x="736" y="296.500">2007</text>
<text class="m" transform="rotate(-90 15.500 38)" x="15.500" y="40">Jun</text><text class="m" transform="rotate(-90 15.500 58)" x="15.500" y="60">Jul</text><text class="m" transform="rotate(-90 15.500 80)" x="15.500" y="82">Aug</text><text class="m" transform="rotate(-90 15.500 102)" x="15.500" y="104">Sep</text><text class="m" transform="rotate(-90 15.500 125)" x="15.500" y="127">Oct</text><text class="m" transform="rotate(-90 15.500 147)" x="15.500" y="149">Nov</text><text class="m" transform="rotate(-90 15.500 164)" x="15.500" y="166">Dec</text><text class="m" transform="rotate(-90 15.500 182)" x="15.500" y="184">Jan</text><text class="m" transform="rotate(-90 15.500 203)" x="15.500" y="205">Feb</text><text class="m" transform="rotate(-90 15.500 222)" x="15.500" y="224">Mar</text><text class="m" transform="rotate(-90 15.500 243)" x="15.500" y="245">Apr</text><text class="m" transform="rotate(-90 15.500 265)" x="15.500" y="267">May</text><text class="m" transform="rotate(-90 15.500 285)" x="15.500" y="287">Jun</text><text class="m" transform="rotate(-90 15.500 307)" x="15.500" y="309">Jul</text><text class="m" transform="rotate(-90 15.500 330)" x="15.500" y="332">Aug</text><text class="m" transform="rotate(-90 15.500 350)" x="15.500" y="352">Sep</text><text class="m" transform="rotate(-90 15.500 371)" x="15.500" y="373">Oct</text><text class="m" transform="rotate(-90 15.500 391)" x="15.500" y="393">Nov</text><text class="m" transform="rotate(-90 15.500 409)" x="15.500" y="411">Dec</text>
<text class="m" transform="rotate(-90 728 38)" x="728" y="40">Jun</text><text class="m" transform="rotate(-90 728 58)" x="728" y="60">Jul</text><text class="m" transform="rotate(-90 728 80)" x="728" y="82">Aug</text><text class="m" transform="rotate(-90 728 102)" x="728" y="104">Sep</text><text class="m" transform="rotate(-90 728 125)" x="728" y="127">Oct</text><text class="m" transform="rotate(-90 728 147)" x="728" y="149">Nov</text><text class="m" transform="rotate(-90 728 164)" x="728" y="166">Dec</text><text class="m" transform="rotate(-90 728 182)" x="728" y="184">Jan</text><text class="m" transform="rotate(-90 728 203)" x="728" y="205">Feb</text><text class="m" transform="rotate(-90 728 222)" x="728" y="224">Mar</text><text class="m" transform="rotate(-90 728 243)" x="728" y="245">Apr</text><text class="m" transform="rotate(-90 728 265)" x="728" y="267">May</text><text class="m" transform="rotate(-90 728 285)" x="728" y="287">Jun</text><text class="m" transform="rotate(-90 728 307)" x="728" y="309">Jul</text><text class="m" transform="rotate(-90 728 330)" x="728" y="332">Aug</text><text class="m" transform="rotate(-90 728 350)" x="728" y="352">Sep</text><text class="m" transform="rotate(-90 728 371)" x="728" y="373">Oct</text><text class="m" transform="rotate(-90 728 391)" x="728" y="393">Nov</text><text class="m" transform="rotate(-90 728 409)" x="728" y="411">Dec</text>
<g id="weeks">
<text class="wk" x="28" y="31">23</text><text class="wk" x="28" y="36">24</text><text class="wk" x="28" y="41">25</text><text class="wk" x="28" y="45">26</text><text class="wk" x="28" y="50">27</text><text class="wk" x="28" y="55">28</text><text class="wk" x="28" y="60">29</text><text class="wk" x="28" y="65">30</text><text class="wk" x="28" y="70">31</text><text class="wk" x="28" y="75">32</text><text class="wk" x="28" y="80">33</text><text class="wk" x="28" y="85">34</text><text class="wk" x="28" y="90">35</text><text class="wk" x="28" y="95">36</text><text class="wk" x="28" y="100">37</text><text class="wk" x="28" y="105">38</text><text class="wk" x="28" y="110">39</text><text class="wk" x="28" y="115">40</text><text class="wk" x="28" y="120">41</text><text class="wk" x="28" y="125">42</text><text class="wk" x="28" y="130">43</text><text class="wk" x="28" y="135">44</text><text class="wk" x="28" y="140">45</text><text class="wk" x="28" y="145">46</text><text class="wk" x="28" y="150">47</text><text class="wk" x="28" y="155">48</text><text class="wk" x="28" y="160">49</text><text class="wk" x="28" y="165">50</text><text class="wk" x="28" y="170">51</text><text class="wk" x="28" y="175">1</text><text class="wk" x="28" y="180">2</text><text class="wk" x="28" y="185">3</text><text class="wk" x="28" y="190">4</text><text class="wk" x="28" y="195">5</text><text class="wk" x="28" y="200">6</text><text class="wk" x="28" y="205">7</text><text class="wk" x="28" y="210">8</text><text class="wk" x="28" y="215">9</text><text class="wk" x="28" y="220">10</text><text class="wk" x="28" y="225">11</text><text class="wk" x="28" y="230">12</text><text class="wk" x="28" y="235">13</text><text class="wk" x="28" y="240">14</text><text class="wk" x="28" y="245">15</text><text class="wk" x="28" y="250">16</text><text class="wk" x="28" y="255">17</text><text class="wk" x="28" y="260">18</text><text class="wk" x="28" y="265">19</text><text class="wk" x="28" y="270">20</text><text class="wk" x="28" y="275">21</text><text class="wk" x="28" y="280">22</text><text class="wk" x="28" y="285">23</text><text class="wk" x="28" y="290">24</text><text class="wk" x="28" y="295">25</text><text class="wk" x="28" y="300">26</text><text class="wk" x="28" y="305">27</text><text class="wk" x="28" y="310">28</text><text class="wk" x="28" y="315">29</text><text class="wk" x="28" y="320">30</text><text class="wk" x="28" y="325">31</text><text class="wk" x="28" y="330">32</text><text class="wk" x="28" y="335">33</text><text class="wk" x="28" y="340">34</text><text class="wk" x="28" y="345">35</text><text class="wk" x="28" y="350">36</text><text class="wk" x="28" y="355">37</text><text class="wk" x="28" y="360">38</text><text class="wk" x="28" y="365">39</text><text class="wk" x="28" y="370">40</text><text class="wk" x="28" y="375">41</text><text class="wk" x="28" y="380">42</text><text class="wk" x="28" y="385">43</text><text class="wk" x="28" y="390">44</text><text class="wk" x="28" y="395">45</text><text class="wk" x="28" y="400">46</text><text class="wk" x="28" y="405">47</text><text class="wk" x="28" y="410">48</text><text class="wk" x="28" y="415">49</text>
</g>
</g>

<g id="legend">
<rect x="611" y="389" width="109" height="27.500" rx="2" fill="#fff" stroke="#999" stroke-width=".4"/><path d="M647 389V416.500M683.500 389V416.500" stroke="#777" stroke-width=".7"/>
</g>

<g id="logo">
<circle cx="11" cy="1" r="5" fill="#d76a3a"/><rect x="12" y="14" width="7" height="6" fill="#ddd" stroke="#888" stroke-width=".4"/>
<text x="20" y="2" style="font-size:3.500px;text-anchor:start">Large</text><text x="20" y="5.500" style="font-size:3.500px;text-anchor:start">Hadron</text><text x="20" y="9" style="font-size:3.500px;text-anchor:start">Collider</text>
<rect x="687" y="-1" width="35" height="6" fill="#fff" stroke="#777" stroke-width=".5"/><text class="s" x="715" y="3.500">DOOR</text>
</g>
</svg>
